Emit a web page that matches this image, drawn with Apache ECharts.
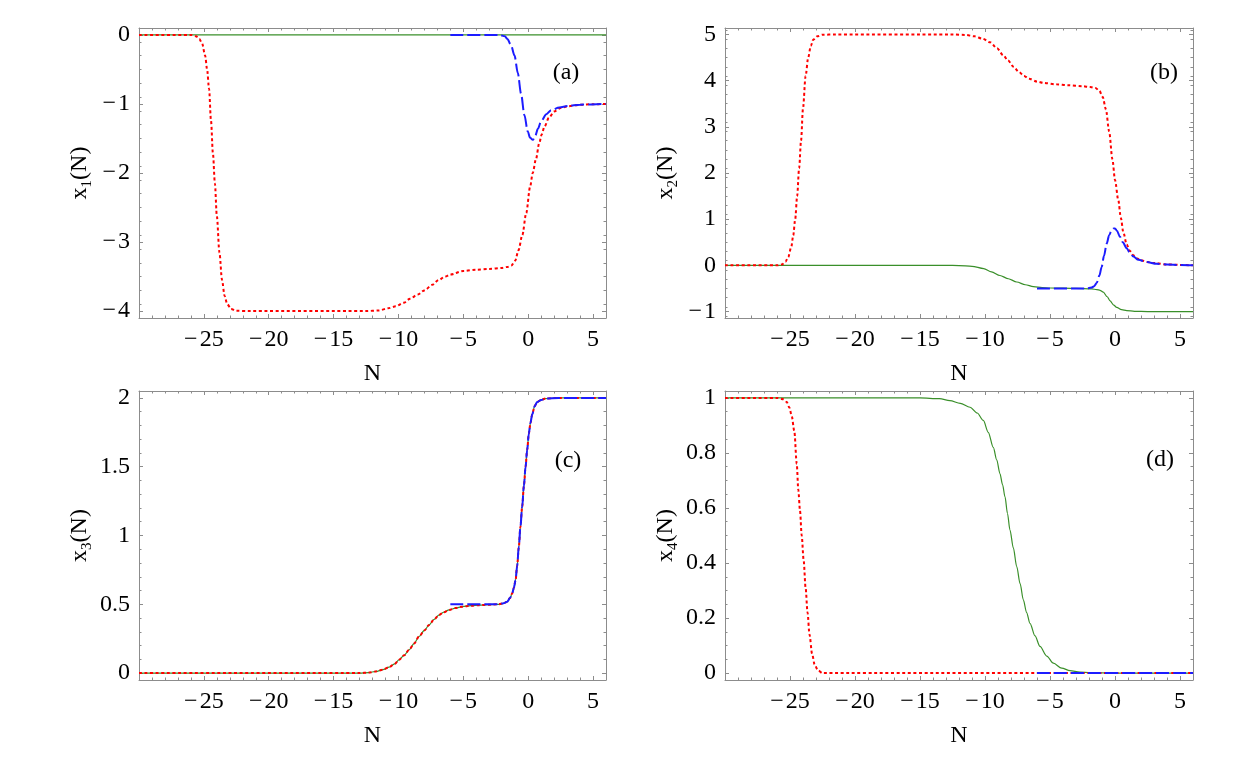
<!DOCTYPE html>
<html>
<head>
<meta charset="utf-8">
<script src="https://cdn.jsdelivr.net/npm/echarts@6/dist/echarts.min.js"></script>
<style>
  html, body { margin: 0; padding: 0; background: #fff; }
  #chartBox { width: 1250px; height: 773px; }
</style>
</head>
<body>
<div id="chartBox"></div>
<script>
// x ticks shared by all panels
const xTicks = [-25, -20, -15, -10, -5, 0, 5];

// y ticks per panel
const yTicksA = [-4, -3, -2, -1, 0];
const yTicksB = [-1, 0, 1, 2, 3, 4, 5];
const yTicksC = [0, 0.5, 1, 1.5, 2];
const yTicksD = [0, 0.2, 0.4, 0.6, 0.8, 1];

// panel (a): x1(N)
const greenA = [[-30, 0], [6, 0]];
const redA = [[-30, 0], [-26, 0], [-25.6, -0.02], [-25.35, -0.06], [-25.14, -0.12], [-24.9, -0.3], [-24.75, -0.5],
  [-24.6, -0.78], [-24.45, -1.24], [-24.3, -1.72], [-24.15, -2.15], [-24.0, -2.62], [-23.8, -3.15], [-23.6, -3.55],
  [-23.4, -3.78], [-23.2, -3.9], [-22.9, -3.97], [-22.5, -3.995], [-21.5, -4.0], [-12.5, -4.0], [-11.5, -3.99],
  [-10.8, -3.96], [-10.2, -3.93], [-9.6, -3.88], [-9.1, -3.82], [-8.5, -3.76], [-8.0, -3.7], [-7.4, -3.62],
  [-6.9, -3.55], [-6.4, -3.5], [-6.0, -3.47], [-5.0, -3.42], [-4.0, -3.4], [-3.0, -3.39], [-2.0, -3.375],
  [-1.6, -3.36], [-1.3, -3.34], [-1.0, -3.27], [-0.75, -3.12], [-0.45, -2.9], [-0.15, -2.58], [0.15, -2.2],
  [0.35, -2.0], [0.6, -1.8], [0.85, -1.57], [1.05, -1.44], [1.25, -1.33], [1.6, -1.2], [2.0, -1.11], [2.5, -1.06],
  [3, -1.035], [4, -1.012], [5, -1.004], [6, -1.0]];
const blueA = [[-6, 0], [-2.2, 0], [-1.8, -0.02], [-1.6, -0.06], [-1.32, -0.15], [-1.05, -0.3], [-0.8, -0.55],
  [-0.55, -0.85], [-0.29, -1.16], [-0.03, -1.4], [0.15, -1.49], [0.36, -1.52], [0.55, -1.46], [0.75, -1.36],
  [1.0, -1.25], [1.4, -1.15], [1.77, -1.09], [2.4, -1.05], [3.05, -1.03], [4, -1.01], [6, -1.0]];

// panel (b): x2(N)
const greenB = [[-30, 0], [-13, 0], [-12, -0.005], [-11, -0.02], [-10.1, -0.07], [-9.5, -0.14], [-8.85, -0.22],
  [-8.2, -0.29], [-7.56, -0.36], [-6.9, -0.42], [-6.28, -0.46], [-5.6, -0.48], [-5, -0.49], [-3, -0.5],
  [-1.8, -0.51], [-1.4, -0.525], [-1.15, -0.54], [-0.9, -0.58], [-0.6, -0.68], [-0.38, -0.77], [-0.1, -0.86],
  [0.13, -0.91], [0.5, -0.96], [0.9, -0.98], [1.5, -0.995], [2.5, -1.0], [6, -1.0]];
const redB = [[-30, 0], [-26, 0], [-25.6, 0.02], [-25.35, 0.08], [-25.14, 0.18], [-24.9, 0.4], [-24.75, 0.65],
  [-24.6, 1.0], [-24.45, 1.5], [-24.3, 2.1], [-24.15, 2.7], [-24.0, 3.4], [-23.8, 4.1], [-23.6, 4.5], [-23.4, 4.75],
  [-23.2, 4.89], [-22.9, 4.96], [-22.5, 4.995], [-21.5, 5.0], [-12.5, 5.0], [-11.5, 4.99], [-10.8, 4.96],
  [-10.2, 4.91], [-9.6, 4.83], [-9.07, 4.7], [-8.6, 4.55], [-8.24, 4.44], [-7.8, 4.3], [-7.4, 4.19], [-7.0, 4.1],
  [-6.6, 4.04], [-6.0, 3.98], [-5.5, 3.95], [-4.5, 3.92], [-3.6, 3.9], [-2.5, 3.88], [-1.9, 3.86], [-1.5, 3.84],
  [-1.2, 3.78], [-0.95, 3.65], [-0.7, 3.38], [-0.45, 2.9], [-0.2, 2.3], [0.0, 1.85], [0.25, 1.42], [0.45, 1.03],
  [0.64, 0.72], [0.9, 0.45], [1.15, 0.31], [1.4, 0.22], [1.7, 0.15], [2.0, 0.11], [2.5, 0.07], [3, 0.05],
  [4, 0.02], [5, 0.01], [6, 0.0]];
const blueB = [[-6, -0.5], [-2.2, -0.5], [-1.8, -0.48], [-1.6, -0.45], [-1.41, -0.38], [-1.2, -0.22],
  [-1.03, -0.04], [-0.85, 0.2], [-0.64, 0.47], [-0.45, 0.65], [-0.26, 0.76], [-0.1, 0.8], [0, 0.8], [0.15, 0.75],
  [0.38, 0.62], [0.6, 0.5], [0.9, 0.37], [1.15, 0.27], [1.41, 0.19], [1.8, 0.12], [2.44, 0.07], [3.2, 0.035],
  [4, 0.02], [5, 0.008], [6, 0]];

// panel (c): x3(N) -- red and green lie on top of each other
const greenC = [[-30, 0], [-13, 0], [-12.3, 0.004], [-11.74, 0.012], [-11.2, 0.025], [-10.72, 0.043],
  [-10.3, 0.067], [-9.95, 0.097], [-9.55, 0.13], [-9.18, 0.169], [-8.8, 0.215], [-8.41, 0.266], [-8.0, 0.31],
  [-7.64, 0.35], [-7.25, 0.39], [-6.87, 0.423], [-6.5, 0.443], [-6.1, 0.459], [-5.6, 0.473], [-5.08, 0.483],
  [-4.4, 0.49], [-3.79, 0.494], [-3.0, 0.497], [-2.26, 0.5], [-1.9, 0.507], [-1.62, 0.519], [-1.4, 0.545],
  [-1.23, 0.58], [-1.1, 0.62], [-0.97, 0.676], [-0.85, 0.78], [-0.72, 0.918], [-0.6, 1.06], [-0.46, 1.21],
  [-0.33, 1.36], [-0.2, 1.5], [-0.08, 1.62], [0.05, 1.74], [0.18, 1.82], [0.31, 1.88], [0.5, 1.94], [0.69, 1.97],
  [1.0, 1.985], [1.33, 1.995], [2.36, 2.0], [6, 2.0]];
const redC = greenC;
const blueC = [[-6, 0.5], [-3, 0.5], [-2.26, 0.5], [-1.9, 0.507], [-1.62, 0.519], [-1.4, 0.545], [-1.23, 0.58],
  [-1.1, 0.62], [-0.97, 0.676], [-0.85, 0.78], [-0.72, 0.918], [-0.6, 1.06], [-0.46, 1.21], [-0.33, 1.36],
  [-0.2, 1.5], [-0.08, 1.62], [0.05, 1.74], [0.18, 1.82], [0.31, 1.88], [0.5, 1.94], [0.69, 1.97], [1.0, 1.985],
  [1.33, 1.995], [2.36, 2.0], [6, 2.0]];

// panel (d): x4(N)
const greenD = [[-30, 1], [-15, 1], [-13.5, 0.997], [-12.7, 0.99], [-11.9, 0.98], [-11.15, 0.966], [-10.6, 0.945],
  [-10.13, 0.918], [-9.75, 0.875], [-9.36, 0.82], [-9.1, 0.775], [-8.85, 0.725], [-8.65, 0.685], [-8.46, 0.64],
  [-8.27, 0.58], [-8.08, 0.52], [-7.82, 0.455], [-7.56, 0.387], [-7.3, 0.325], [-7.05, 0.266], [-6.8, 0.22],
  [-6.54, 0.181], [-6.15, 0.135], [-5.77, 0.097], [-5.25, 0.062], [-4.74, 0.036], [-4.1, 0.018], [-3.46, 0.009],
  [-2.7, 0.004], [-1.9, 0.002], [0, 0], [6, 0]];
const redD = [[-30, 1], [-26, 1], [-25.5, 0.995], [-25.25, 0.985], [-25.05, 0.965], [-24.87, 0.935],
  [-24.67, 0.88], [-24.48, 0.76], [-24.36, 0.665], [-24.23, 0.59], [-24.1, 0.5], [-23.95, 0.41], [-23.8, 0.31],
  [-23.65, 0.22], [-23.5, 0.14], [-23.3, 0.07], [-23.1, 0.03], [-22.85, 0.01], [-22.5, 0], [6, 0]];
const blueD = [[-6, 0], [6, 0]];

const FONT = 'Liberation Serif';
const FRAME = '#8c8c8c';
const GREEN = '#3a8f2a';
const RED = '#ff0000';
const BLUE = '#1c1cff';

// proper minus sign with a hair gap, as in the original typesetting
const fmt = (v) => String(v).replace('-', '\u2212\u200a');

// minor tick positions between the given bounds
const minorsOf = (lo, hi, step, majors) => {
  const out = [];
  for (let v = lo; v <= hi + 1e-9; v += step) {
    const r = Math.round(v * 1000) / 1000;
    if (!majors.some((m) => Math.abs(m - r) < 1e-6)) out.push(r);
  }
  return out;
};

const panels = [
  { grid: { left: 139, top: 28, width: 467, height: 290 }, ymin: -4.1, ymax: 0.1, yTicks: yTicksA, ystep: 0.2,
    sub: '1', tag: '(a)', tagPos: [566, 73], green: greenA, red: redA, blue: blueA },
  { grid: { left: 725, top: 28, width: 468, height: 290 }, ymin: -1.14, ymax: 5.14, yTicks: yTicksB, ystep: 0.2,
    sub: '2', tag: '(b)', tagPos: [1164, 73], green: greenB, red: redB, blue: blueB },
  { grid: { left: 139, top: 391, width: 467, height: 289 }, ymin: -0.05, ymax: 2.05, yTicks: yTicksC, ystep: 0.1,
    sub: '3', tag: '(c)', tagPos: [568, 461], green: greenC, red: redC, blue: blueC },
  { grid: { left: 725, top: 391, width: 468, height: 289 }, ymin: -0.025, ymax: 1.025, yTicks: yTicksD, ystep: 0.05,
    sub: '4', tag: '(d)', tagPos: [1160, 460], green: greenD, red: redD, blue: blueD },
];

const grids = [];
const xAxes = [];
const yAxes = [];
const series = [];
const graphics = [];

const tickAxis = (base, values, len, withLine) => Object.assign({
  type: 'value',
  axisLine: { show: withLine, onZero: false, lineStyle: { color: FRAME, width: 1 } },
  axisTick: { show: true, inside: true, length: len, customValues: values, lineStyle: { color: FRAME, width: 1 } },
  axisLabel: { show: false },
  splitLine: { show: false },
}, base);

panels.forEach((p, g) => {
  grids.push(p.grid);
  const xMinor = minorsOf(-30, 6, 1, xTicks);
  const yMinor = minorsOf(p.yTicks[0] - 0.5, p.yTicks[p.yTicks.length - 1] + 0.5, p.ystep, p.yTicks)
    .filter((v) => v > p.ymin && v < p.ymax);
  const xb = { gridIndex: g, min: -30, max: 6 };
  const yb = { gridIndex: g, min: p.ymin, max: p.ymax };

  const x0 = xAxes.length;
  xAxes.push(tickAxis(Object.assign({}, xb, {
    position: 'bottom',
    axisLabel: { show: true, customValues: xTicks, formatter: fmt, margin: 10, color: '#000',
      fontFamily: FONT, fontSize: 24 },
    name: 'N', nameLocation: 'middle', nameGap: 44,
    nameTextStyle: { color: '#000', fontFamily: FONT, fontSize: 24 },
  }), xTicks, 4, true));
  xAxes.push(tickAxis(Object.assign({}, xb, { position: 'bottom' }), xMinor, 2.5, false));
  xAxes.push(tickAxis(Object.assign({}, xb, { position: 'top' }), xTicks, 4, true));
  xAxes.push(tickAxis(Object.assign({}, xb, { position: 'top' }), xMinor, 2.5, false));

  const y0 = yAxes.length;
  yAxes.push(tickAxis(Object.assign({}, yb, {
    position: 'left',
    axisLabel: { show: true, customValues: p.yTicks, formatter: fmt, margin: 9, color: '#000',
      fontFamily: FONT, fontSize: 24 },
    name: '{i|x}{s|' + p.sub + '}{i|(N)}', nameLocation: 'middle', nameGap: 44, nameRotate: 90,
    nameTextStyle: {
      color: '#000', fontFamily: FONT, fontSize: 24,
      rich: {
        i: { fontFamily: FONT, fontSize: 24, lineHeight: 30, color: '#000' },
        s: { fontFamily: FONT, fontSize: 15, lineHeight: 15, verticalAlign: 'bottom', color: '#000' },
      },
    },
  }), p.yTicks, 4, true));
  yAxes.push(tickAxis(Object.assign({}, yb, { position: 'left' }), yMinor, 2.5, false));
  yAxes.push(tickAxis(Object.assign({}, yb, { position: 'right' }), p.yTicks, 4, true));
  yAxes.push(tickAxis(Object.assign({}, yb, { position: 'right' }), yMinor, 2.5, false));

  const line = (data, color, width, type, z) => ({
    type: 'line', xAxisIndex: x0, yAxisIndex: y0, data: data, showSymbol: false, smooth: 0.3,
    smoothMonotone: 'x', z: z, silent: true,
    lineStyle: { color: color, width: width, type: type, cap: 'butt' },
  });
  series.push(line(p.green, GREEN, 1.2, 'solid', 2));
  series.push(line(p.red, RED, 2, [3, 2.6], 3));
  series.push(line(p.blue, BLUE, 2, [13, 4], 4));

  graphics.push({
    type: 'text', x: p.tagPos[0], y: p.tagPos[1],
    style: { text: p.tag, font: '24px "Liberation Serif"', fill: '#000',
      align: 'center', verticalAlign: 'middle', textAlign: 'center', textVerticalAlign: 'middle' },
  });
});

const myChart = echarts.init(document.getElementById('chartBox'));
myChart.setOption({
  animation: false,
  backgroundColor: '#fff',
  grid: grids,
  xAxis: xAxes,
  yAxis: yAxes,
  series: series,
  graphic: graphics,
});
</script>
</body>
</html>
